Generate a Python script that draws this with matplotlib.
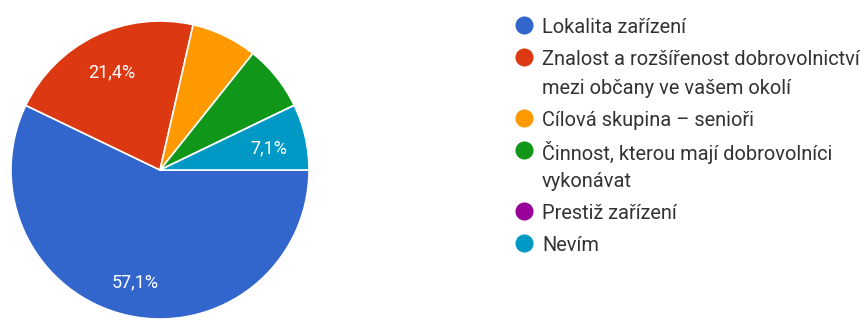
import matplotlib
matplotlib.use("Agg")
import matplotlib.pyplot as plt
import numpy as np

plt.rcParams['font.family'] = ['Roboto', 'DejaVu Sans']

# survey answers (14 respondents)
labels = [
    "Lokalita zařízení",
    "Znalost a rozšířenost dobrovolnictví\nmezi občany ve vašem okolí",
    "Cílová skupina – senioři",
    "Činnost, kterou mají dobrovolníci\nvykonávat",
    "Prestiž zařízení",
    "Nevím",
]
counts = [8, 3, 1, 1, 0, 1]
colors = ["#3366cc", "#dc3912", "#ff9900", "#109618", "#990099", "#0099c6"]
shown_pct = [57.1, 21.4, None, None, None, 7.1]   # slices that get a label

W, H = 862, 322
fig = plt.figure(figsize=(W / 100, H / 100), dpi=100)

# pie
cx, cy, r = 160, 170, 149
ax = fig.add_axes([(cx - r) / W, (H - cy - r) / H, 2 * r / W, 2 * r / H])
wedges, _ = ax.pie(counts, colors=colors, startangle=0, counterclock=False,
                   wedgeprops=dict(edgecolor="white", linewidth=1.2))
ax.set_xlim(-1, 1)
ax.set_ylim(-1, 1)
ax.set_aspect("auto")

for w, pct in zip(wedges, shown_pct):
    if pct is None:
        continue
    mid = np.deg2rad((w.theta1 + w.theta2) / 2)
    d = 0.75
    ax.text(d * np.cos(mid), d * np.sin(mid) - 0.02, f"{pct:.1f}%".replace(".", ","),
            ha="center", va="center", color="white", fontsize=13)

# legend drawn in pixel coordinates
lax = fig.add_axes([0, 0, 1, 1])
lax.set_xlim(0, W)
lax.set_ylim(H, 0)
lax.axis("off")

y = 25
for lab, col in zip(labels, colors):
    lax.plot(524, y, "o", ms=12, color=col, mec=col)
    for i, part in enumerate(lab.split("\n")):
        lax.text(542, y + 29 * i, part, ha="left", va="center_baseline",
                 color="#333333", fontsize=14.4)
    y += 29 * lab.count("\n") + 32

fig.savefig("out.png", dpi=100, facecolor="white")
